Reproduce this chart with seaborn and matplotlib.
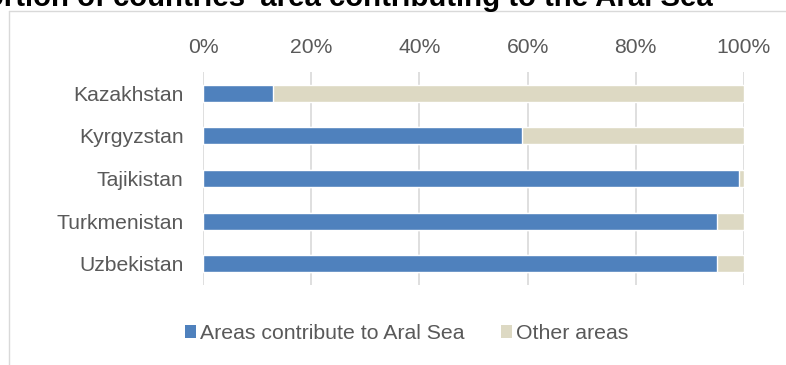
import pandas as pd
import matplotlib.pyplot as plt
import seaborn as sns
from matplotlib.patches import Patch
from matplotlib.lines import Line2D

# Data (percent of country area)
countries = ['Kazakhstan', 'Kyrgyzstan', 'Tajikistan', 'Turkmenistan', 'Uzbekistan']
aral_share = [13, 59, 99, 95, 95]
other_share = [87, 41, 1, 5, 5]
x_ticks = [0, 20, 40, 60, 80, 100]
x_tick_labels = ['0%', '20%', '40%', '60%', '80%', '100%']
series_names = ['Areas contribute to Aral Sea', 'Other areas']
title = "Proportion of countries' area contributing to the Aral Sea"

blue = '#4f81bd'
beige = '#ddd9c3'
grey_txt = '#595959'
grey_line = '#d9d9d9'

df = pd.DataFrame({'country': countries, 'aral': aral_share, 'other': other_share})
df['total'] = df['aral'] + df['other']

sns.set_style('white')
plt.rcParams['font.family'] = ['Liberation Sans', 'DejaVu Sans']

W, H = 786, 365
fig = plt.figure(figsize=(W / 100, H / 100), dpi=100)
ax = fig.add_axes([203 / W, 1 - 285 / H, (744 - 203) / W, (285 - 72) / H])

# stacked bars: full length in beige, Aral part in blue on top
sns.barplot(data=df, y='country', x='total', color=beige, width=0.4,
            saturation=1, orient='h', ax=ax, zorder=2)
sns.barplot(data=df, y='country', x='aral', color=blue, width=0.4,
            saturation=1, orient='h', ax=ax, zorder=3)

ax.set_xlim(0, 100)
ax.set_ylim(4.5, -0.5)
ax.set_xticks(x_ticks)
ax.set_xticklabels(x_tick_labels)
ax.xaxis.tick_top()
ax.tick_params(axis='x', length=0, pad=10.5, labelsize=15.2, labelcolor=grey_txt)
ax.tick_params(axis='y', length=0, pad=14, labelsize=15.2, labelcolor=grey_txt)
ax.set_xlabel('')
ax.set_ylabel('')
ax.grid(axis='x', color=grey_line, linewidth=1.2, zorder=0)
ax.set_axisbelow(True)
for s in ax.spines.values():
    s.set_visible(False)

# legend
handles = [Patch(facecolor=blue, edgecolor='none'), Patch(facecolor=beige, edgecolor='none')]
fig.legend(handles, series_names, loc='center', ncol=2, frameon=False,
           bbox_to_anchor=(407 / W, 1 - 333.5 / H), fontsize=15.3,
           handlelength=0.52, handleheight=0.52, handletextpad=0.2,
           columnspacing=1.7, labelcolor=grey_txt)

# chart frame lines (left and top) and the clipped title
fig.add_artist(Line2D([8.5 / W, 8.5 / W], [0, 1 - 11 / H], transform=fig.transFigure,
                      color=grey_line, linewidth=1))
fig.add_artist(Line2D([8.5 / W, 1], [1 - 11 / H, 1 - 11 / H], transform=fig.transFigure,
                      color=grey_line, linewidth=1))
fig.text(713 / W, 1 - 5.5 / H, title, ha='right', va='baseline', fontsize=21.2,
         fontweight='bold', color='black')

fig.savefig('out.png', dpi=100)
plt.close(fig)
